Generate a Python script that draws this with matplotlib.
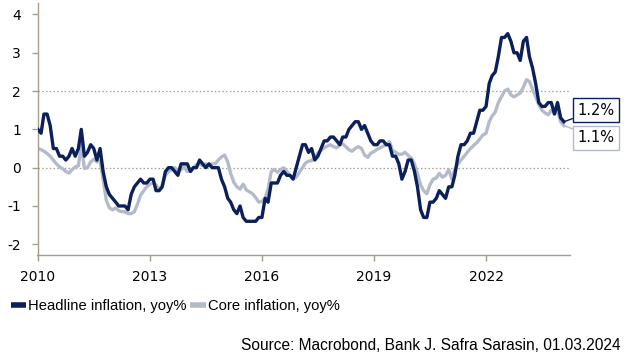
import matplotlib
matplotlib.use("Agg")
import matplotlib.pyplot as plt
import matplotlib.dates as mdates
import pandas as pd
from matplotlib.lines import Line2D

plt.rcParams['axes.unicode_minus'] = False

# Monthly yoy %, Jan 2010 - Feb 2024
headline = [
    1.0, 0.9, 1.4, 1.4, 1.1, 0.5, 0.5, 0.3, 0.3, 0.2, 0.3, 0.5,        # 2010
    0.3, 0.5, 1.0, 0.3, 0.4, 0.6, 0.5, 0.2, 0.5, -0.1, -0.5, -0.7,     # 2011
    -0.8, -0.9, -1.0, -1.0, -1.0, -1.1, -0.7, -0.5, -0.4, -0.3, -0.4, -0.4,  # 2012
    -0.3, -0.3, -0.6, -0.6, -0.5, -0.1, 0.0, 0.0, -0.1, -0.2, 0.1, 0.1,  # 2013
    0.1, -0.1, 0.0, 0.0, 0.2, 0.1, 0.0, 0.1, 0.0, 0.0, 0.0, -0.3,      # 2014
    -0.5, -0.8, -0.9, -1.1, -1.2, -1.0, -1.3, -1.4, -1.4, -1.4, -1.4, -1.3,  # 2015
    -1.3, -0.8, -0.9, -0.4, -0.4, -0.4, -0.2, -0.1, -0.2, -0.2, -0.3, 0.0,   # 2016
    0.3, 0.6, 0.6, 0.4, 0.5, 0.2, 0.3, 0.5, 0.7, 0.7, 0.8, 0.8,        # 2017
    0.7, 0.6, 0.8, 0.8, 1.0, 1.1, 1.2, 1.2, 1.0, 1.1, 0.9, 0.7,        # 2018
    0.6, 0.6, 0.7, 0.7, 0.6, 0.6, 0.3, 0.3, 0.1, -0.3, -0.1, 0.2,      # 2019
    0.2, -0.1, -0.5, -1.1, -1.3, -1.3, -0.9, -0.9, -0.8, -0.6, -0.7, -0.8,  # 2020
    -0.5, -0.5, -0.2, 0.3, 0.6, 0.6, 0.7, 0.9, 0.9, 1.2, 1.5, 1.5,     # 2021
    1.6, 2.2, 2.4, 2.5, 2.9, 3.4, 3.4, 3.5, 3.3, 3.0, 3.0, 2.8,        # 2022
    3.3, 3.4, 2.9, 2.6, 2.2, 1.7, 1.6, 1.6, 1.7, 1.7, 1.4, 1.7,        # 2023
    1.3, 1.2,                                                          # 2024
]
core = [
    0.5, 0.47, 0.43, 0.37, 0.3, 0.2, 0.1, 0.02, -0.03, -0.1, -0.14, -0.05,   # 2010
    0.02, 0.05, 0.6, -0.02, 0.0, 0.15, 0.22, 0.15, 0.18, -0.3, -0.85, -1.05,  # 2011
    -1.1, -1.05, -1.12, -1.15, -1.15, -1.2, -1.2, -1.15, -0.95, -0.72, -0.6, -0.5,  # 2012
    -0.43, -0.4, -0.45, -0.58, -0.45, -0.2, -0.1, -0.05, 0.0, -0.1, -0.05, 0.02,  # 2013
    -0.1, -0.05, 0.0, 0.08, 0.1, 0.05, 0.1, 0.05, 0.1, 0.1, 0.2, 0.28,        # 2014
    0.33, 0.15, -0.15, -0.38, -0.5, -0.56, -0.43, -0.58, -0.63, -0.68, -0.78, -0.9,  # 2015
    -0.88, -0.8, -0.55, -0.1, -0.05, -0.12, -0.05, 0.0, -0.1, -0.2, -0.28, -0.25,  # 2016
    -0.12, 0.0, 0.12, 0.17, 0.18, 0.27, 0.38, 0.45, 0.52, 0.56, 0.6, 0.55,   # 2017
    0.52, 0.6, 0.62, 0.55, 0.47, 0.43, 0.5, 0.55, 0.5, 0.33, 0.27, 0.38,     # 2018
    0.42, 0.48, 0.52, 0.56, 0.6, 0.68, 0.45, 0.4, 0.35, 0.35, 0.4, 0.32,     # 2019
    0.25, 0.1, -0.15, -0.45, -0.6, -0.68, -0.45, -0.3, -0.27, -0.15, -0.25, -0.2,  # 2020
    -0.05, -0.3, -0.05, 0.1, 0.2, 0.3, 0.4, 0.5, 0.58, 0.65, 0.75, 0.85,     # 2021
    0.9, 1.2, 1.35, 1.45, 1.7, 1.85, 2.0, 2.05, 1.9, 1.85, 1.9, 1.95,        # 2022
    2.1, 2.3, 2.25, 2.05, 1.85, 1.65, 1.5, 1.43, 1.38, 1.5, 1.43, 1.47,      # 2023
    1.2, 1.1,                                                                # 2024
]
start_month = "2010-01-01"
x_tick_years = [2010, 2013, 2016, 2019, 2022]
y_ticks = [-2, -1, 0, 1, 2, 3, 4]
ref_lines = [0, 2]
series_names = ["Headline inflation, yoy%", "Core inflation, yoy%"]
end_labels = ["1.2%", "1.1%"]
source_text = "Source: Macrobond, Bank J. Safra Sarasin, 01.03.2024"

NAVY = "#0b1f5a"
GREY = "#b3bbcb"
AXC = "#a89c8e"

dates = pd.date_range(start_month, periods=len(headline), freq="MS")

fig = plt.figure(figsize=(6.3, 3.62), dpi=100)
ax = fig.add_axes([37.5/630, 1-255/362, (570-37.5)/630, (255-3)/362])

for yv in ref_lines:
    ax.axhline(yv, color=AXC, lw=0.9, ls=(0, (1.2, 1.8)), zorder=1)

ax.plot(dates, core, color=GREY, lw=2.4, zorder=2, solid_joinstyle='round')
ax.plot(dates, headline, color=NAVY, lw=2.4, zorder=3, solid_joinstyle='round')

ax.set_ylim(-2.28, 4.3)
ax.set_xlim(pd.Timestamp("2009-12-28"), pd.Timestamp("2024-04-01"))
ax.set_yticks(y_ticks)
ax.set_yticklabels([str(v) for v in y_ticks])
ax.set_xticks([pd.Timestamp(f"{y}-01-01") for y in x_tick_years])
ax.set_xticklabels([str(y) for y in x_tick_years])

for s in ["top", "right"]:
    ax.spines[s].set_visible(False)
for s in ["left", "bottom"]:
    ax.spines[s].set_color(AXC)
    ax.spines[s].set_linewidth(1.0)
ax.tick_params(axis="both", colors=AXC, length=4, width=1.0, direction="out")
ax.tick_params(axis="x", labelcolor="black", labelsize=10, pad=7)
ax.tick_params(axis="y", labelcolor="black", labelsize=10, pad=8)
for lab in ax.get_xticklabels() + ax.get_yticklabels():
    lab.set_family("DejaVu Sans")

sans = ["Liberation Sans", "DejaVu Sans"]

# end-of-line value labels
xt = mdates.date2num(pd.Timestamp("2024-12-10"))
xl = mdates.date2num(dates[-1])
ax.annotate(end_labels[0], xy=(xl, headline[-1]), xytext=(xt, 1.5),
            fontsize=10.5, family="DejaVu Sans", color="black", ha="center", va="center",
            annotation_clip=False,
            bbox=dict(boxstyle="square,pad=0.3", fc="white", ec=NAVY, lw=1.0),
            arrowprops=dict(arrowstyle="-", color=NAVY, lw=1.0, shrinkA=0, shrinkB=0))
ax.annotate(end_labels[1], xy=(xl, core[-1]), xytext=(xt, 0.78),
            fontsize=10.5, family="DejaVu Sans", color="black", ha="center", va="center",
            annotation_clip=False,
            bbox=dict(boxstyle="square,pad=0.3", fc="white", ec=GREY, lw=1.0),
            arrowprops=dict(arrowstyle="-", color=GREY, lw=1.0, shrinkA=0, shrinkB=0))

handles = [Line2D([], [], color=NAVY, lw=4, solid_capstyle="butt"),
           Line2D([], [], color=GREY, lw=4, solid_capstyle="butt")]
fig.legend(handles, series_names, loc="center left", bbox_to_anchor=(11/630, 1-306/362),
           ncol=2, frameon=False, handlelength=1.05, handletextpad=0.12, columnspacing=0.25,
           borderaxespad=0, borderpad=0, prop=dict(family=sans, size=10.6))

fig.text(621/630, 1-345/362, source_text, ha="right", va="center",
         family=sans, fontsize=11.2, color="black")

fig.savefig("out.png", dpi=100)
